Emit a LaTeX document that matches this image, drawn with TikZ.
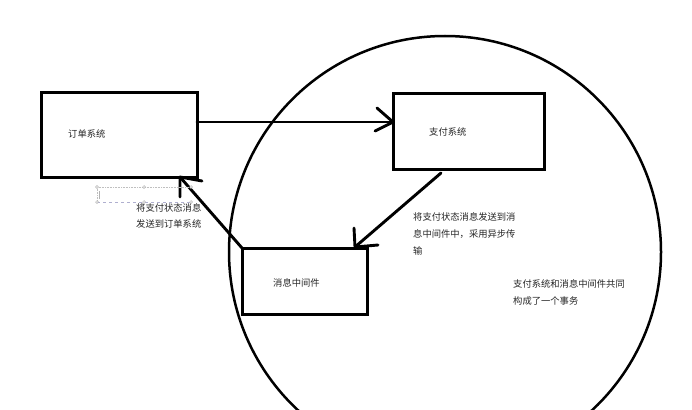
\documentclass[tikz,border=0pt]{standalone}
\usepackage{fontspec}
\setmainfont{Noto Sans CJK SC}
\begin{document}
\begin{tikzpicture}[x=1pt,y=-1pt,
  box/.style={draw=black, line width=3pt, inner sep=0pt, outer sep=0pt},
  lbl/.style={anchor=west, inner sep=0pt, text=black!85, font=\fontsize{9.3}{16.5}\selectfont, align=left},
  conn/.style={draw=black, line width=2.9pt, line cap=round, line join=round},
  ring/.style={draw=black, circle, line width=2.5pt, inner sep=0pt, outer sep=0pt, minimum size=432pt},
  handle/.style={draw=gray!60, fill=white, line width=0.5pt}
]
\useasboundingbox (0,0) rectangle (692,409);
\clip (0,0) rectangle (692,409);
\fill[white] (0,0) rectangle (692,409);

% transaction circle
\node[ring] (txn) at (445,252) {};

% boxes
\node[box, minimum width=156pt, minimum height=84pt] (order) at (119,135) {};
\node[box, minimum width=151pt, minimum height=75pt] (pay) at (468.5,131.5) {};
\node[box, minimum width=125pt, minimum height=66pt] (mw) at (304.5,281) {};

% box labels
\node[lbl] (orderT) at (68,134) {订单系统};
\node[lbl] (payT) at (429,132) {支付系统};
\node[lbl] (mwT) at (273,283) {消息中间件};

% arrow order -> pay
\coordinate (t1) at ([yshift=9.5pt]pay.west);
\draw[conn] ([yshift=13pt]order.east) -- (t1);
\draw[conn] (t1) -- ++(-16,-14) (t1) -- ++(-18,9);

% arrow pay -> middleware
\coordinate (s2) at ([xshift=-27.5pt,yshift=-4pt]pay.south);
\coordinate (t2) at ([xshift=-12pt,yshift=1pt]mw.north east);
\draw[conn] (s2) -- (t2);
\draw[conn] (t2) -- ++(-1,-19) (t2) -- ++(23,-2);

% arrow middleware -> order
\coordinate (t3) at ([xshift=61pt]order.south);
\draw[conn] (mw.north west) -- (t3);
\draw[conn] (t3) -- ++(0,20) (t3) -- ++(22,4);

% selection frame artefact
\draw[gray!50, densely dotted, line width=0.6pt] (97,187) -- (191,187);
\draw[blue!25!gray!50, dashed, line width=0.5pt] (97,202) -- (191,202);
\draw[gray!50, densely dotted, line width=0.6pt] (97,187) -- (97,202);
\foreach \p in {(97,187),(144,187),(191,187),(97,202),(144,202),(191,202)}
  \draw[handle] \p circle[radius=1.4pt];
\draw[gray!60, line width=0.5pt] (99,191) -- (99,199);

% message labels
\node[lbl, font=\fontsize{9.3}{16}\selectfont] (m1) at (136,216) {将支付状态消息\\发送到订单系统};
\node[lbl, font=\fontsize{9.3}{17}\selectfont] (m2) at (413,234) {将支付状态消息发送到消\\息中间件中，采用异步传\\输};
\node[lbl, font=\fontsize{9.3}{17}\selectfont] (m3) at (513,292.5) {支付系统和消息中间件共同\\构成了一个事务};
\end{tikzpicture}
\end{document}
